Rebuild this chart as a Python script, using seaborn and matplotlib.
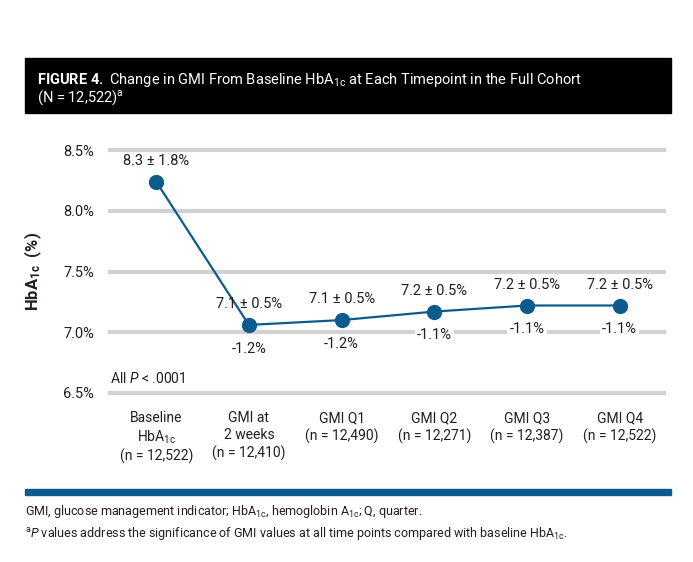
import matplotlib
matplotlib.use('Agg')
import matplotlib.pyplot as plt
import seaborn as sns
import pandas as pd
from matplotlib.patches import Rectangle

# chart values
timepoints = ['Baseline\nHbA$_{\\mathrm{1c}}$\n(n = 12,522)', 'GMI at\n2 weeks\n(n = 12,410)',
              'GMI Q1\n(n = 12,490)', 'GMI Q2\n(n = 12,271)',
              'GMI Q3\n(n = 12,387)', 'GMI Q4\n(n = 12,522)']
hba1c = [8.24, 7.06, 7.10, 7.17, 7.22, 7.22]
top_labels = ['8.3 ± 1.8%', '7.1 ± 0.5%', '7.1 ± 0.5%', '7.2 ± 0.5%', '7.2 ± 0.5%', '7.2 ± 0.5%']
change_labels = ['', '-1.2%', '-1.2%', '-1.1%', '-1.1%', '-1.1%']
yticks = [6.5, 7.0, 7.5, 8.0, 8.5]

sns.set_style('white')
plt.rcParams['font.family'] = ['Roboto', 'DejaVu Sans']
plt.rcParams['mathtext.fontset'] = 'custom'
plt.rcParams['mathtext.rm'] = 'Roboto'
plt.rcParams['mathtext.it'] = 'Roboto:italic'
plt.rcParams['mathtext.bf'] = 'Roboto:bold'

txt = '#231f20'
blue = '#0d5a8c'
sub = '$_{\\mathrm{1c}}$'

df = pd.DataFrame({'pos': range(len(hba1c)), 'val': hba1c})

fig = plt.figure(figsize=(6.93, 5.62), dpi=100)
ax = fig.add_axes([108 / 693, 1 - 399 / 562, (666 - 108) / 693, (399 - 144) / 562])

sns.lineplot(data=df, x='pos', y='val', ax=ax, color=blue, linewidth=1.6,
             marker='o', markersize=11, markeredgewidth=0)

ax.set_xlim(-0.52, 5.5)
ax.set_ylim(6.45, 8.55)
ax.set_yticks(yticks)
ax.set_yticklabels([f'{v:.1f}%' for v in yticks], fontsize=10.5, color=txt)
ax.set_xticks(range(len(timepoints)))
ax.set_xticklabels(timepoints, fontsize=10, color=txt, linespacing=1.25)
ax.tick_params(axis='both', length=0)
ax.tick_params(axis='x', pad=9)
ax.tick_params(axis='y', pad=10)
ax.yaxis.grid(True, color='#d2d2d2', linewidth=3)
ax.set_axisbelow(True)
for s in ax.spines.values():
    s.set_visible(False)
ax.set_xlabel('')
ax.set_ylabel('HbA$_{\\mathbf{1c}}$  (%)', fontsize=12, fontweight='bold', color=txt, labelpad=14)

for i, v in enumerate(hba1c):
    ax.annotate(top_labels[i], (i, v), xytext=(0, 15), textcoords='offset points',
                ha='center', va='center', fontsize=10.5, color=txt)
    if change_labels[i]:
        ax.annotate(change_labels[i], (i, v), xytext=(0, -17), textcoords='offset points',
                    ha='center', va='center', fontsize=10.5, color=txt,
                    bbox=dict(fc='white', ec='none', pad=1.5))

ax.text(-0.5, 6.62, 'All $\\it{P}$ < .0001', fontsize=10, color=txt, ha='left', va='center')

# title banner
fig.patches.append(Rectangle((25 / 693, 1 - 113 / 562), (671 - 25) / 693, 55 / 562,
                             transform=fig.transFigure, color='black', zorder=0))
fig.text(37 / 693, 1 - 80 / 562,
         '$\\bf{FIGURE\\ 4.}$ Change in GMI From Baseline HbA' + sub + ' at Each Timepoint in the Full Cohort',
         color='white', fontsize=10.5, va='center', ha='left')
fig.text(37 / 693, 1 - 98 / 562, '(N = 12,522)$^{\\mathrm{a}}$', color='white', fontsize=10.5,
         va='center', ha='left')

# footer rule and notes
fig.patches.append(Rectangle((25 / 693, 1 - 495 / 562), (671 - 25) / 693, 6 / 562,
                             transform=fig.transFigure, color=blue, zorder=0))
fig.text(25 / 693, 1 - 512 / 562,
         'GMI, glucose management indicator; HbA' + sub + ', hemoglobin A' + sub + '; Q, quarter.',
         color=txt, fontsize=9, va='center', ha='left')
fig.text(25 / 693, 1 - 533 / 562,
         '$^{\\mathrm{a}}$$\\it{P}$ values address the significance of GMI values at all time points compared with baseline HbA' + sub + '.',
         color=txt, fontsize=9, va='center', ha='left')

fig.savefig('out.png', dpi=100, facecolor='white')
